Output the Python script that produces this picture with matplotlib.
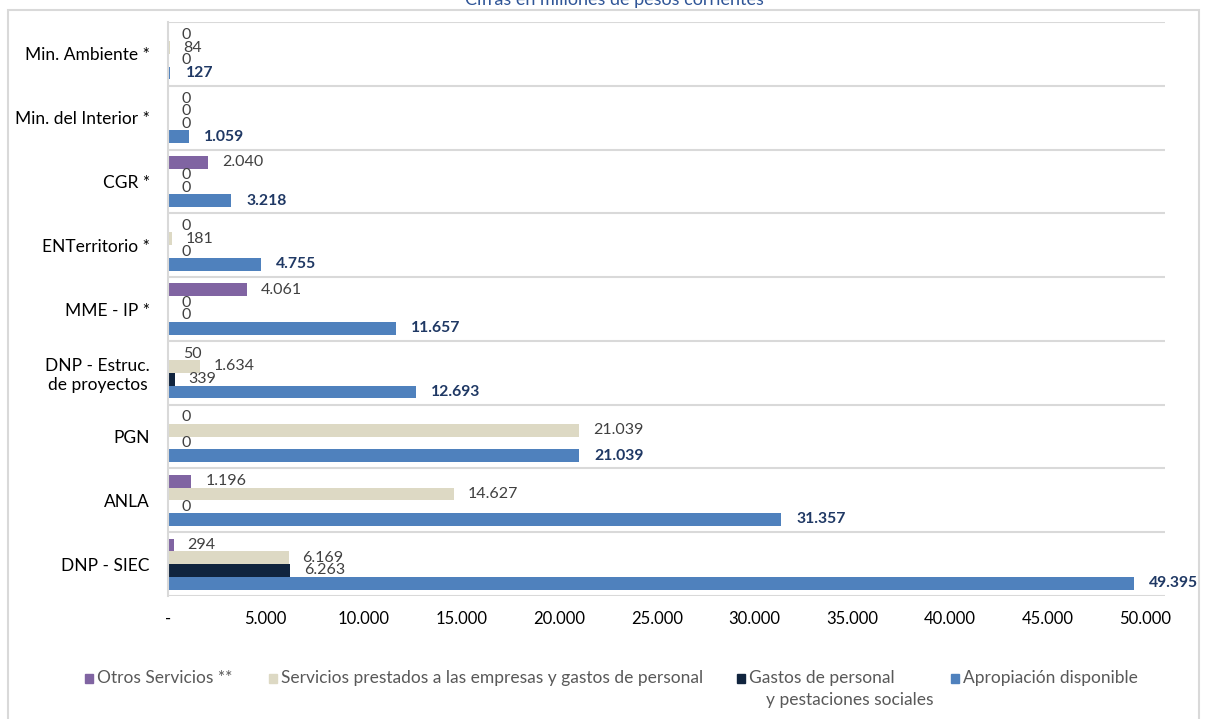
import matplotlib.pyplot as plt
from matplotlib.patches import Rectangle

plt.rcParams["font.family"] = ["Lato", "DejaVu Sans"]

categorias = ["Min. Ambiente *", "Min. del Interior *", "CGR *", "ENTerritorio *",
              "MME - IP *", "DNP - Estruc.\nde proyectos", "PGN", "ANLA", "DNP - SIEC"]
series = ["Otros Servicios **",
          "Servicios prestados a las empresas y gastos de personal",
          "Gastos de personal",
          "Apropiación disponible"]
otros = [0, 0, 2040, 0, 4061, 50, 0, 1196, 294]
servicios = [84, 0, 0, 181, 0, 1634, 21039, 14627, 6169]
gastos = [0, 0, 0, 0, 0, 339, 0, 0, 6263]
apropiacion = [127, 1059, 3218, 4755, 11657, 12693, 21039, 31357, 49395]
colores = ["#8064A2", "#DDD9C4", "#10243E", "#4F81BD"]


def fmt(v):
    return f"{v:,.0f}".replace(",", ".")


W, H = 1207, 719
fig = plt.figure(figsize=(W / 100, H / 100), dpi=100)
ax = fig.add_axes([168 / W, 1 - 596 / H, (1165 - 168) / W, (596 - 22) / H])

h = 0.2
offs = [-0.3, -0.1, 0.1, 0.3]
datos = [otros, servicios, gastos, apropiacion]
ypos = list(range(len(categorias)))
for k, (vals, col, off) in enumerate(zip(datos, colores, offs)):
    y = [i + off for i in ypos]
    ax.barh(y, vals, height=h, color=col)
    for yy, v in zip(y, vals):
        if k == 3:
            ax.annotate(fmt(v), (v, yy), xytext=(11, 0), textcoords="offset points",
                        va="center", ha="left", fontsize=11.3, fontweight="bold",
                        color="#1F3864")
        else:
            ax.annotate(fmt(v), (v, yy), xytext=(10, 0), textcoords="offset points",
                        va="center", ha="left", fontsize=11.5, color="#404040")

ax.set_ylim(len(categorias) - 0.5, -0.5)
ax.set_xlim(0, 51000)
for b in range(len(categorias) + 1):
    ax.axhline(b - 0.5, color="#D9D9D9", lw=1.5, zorder=0)

ax.set_yticks(ypos)
ax.set_yticklabels(categorias, fontsize=12.5, color="#000000", ha="right",
                   multialignment="center")
ax.tick_params(axis="y", length=0, pad=13)
xt = list(range(0, 50001, 5000))
ax.set_xticks(xt)
ax.set_xticklabels(["-" if t == 0 else fmt(t) for t in xt], fontsize=12, color="#000000")
ax.tick_params(axis="x", length=0, pad=11)
for s in ["top", "right", "bottom"]:
    ax.spines[s].set_visible(False)
ax.spines["left"].set_color("#D9D9D9")
ax.spines["left"].set_linewidth(1.5)

fig.text(614 / W, 1.0, "Cifras en millones de pesos corrientes", ha="center", va="center",
         fontsize=13, color="#2F5597")

fig.patches.append(Rectangle((8 / W, -0.01), 1191 / W, 1.0 - 10 / H + 0.01,
                             transform=fig.transFigure, fill=False,
                             edgecolor="#D9D9D9", lw=1.5))

# leyenda colocada a mano
ley_x = [85, 269, 737, 951]
for x0, col, lab in zip(ley_x, colores, series):
    fig.patches.append(Rectangle((x0 / W, 1 - 683 / H), 8 / W, 9 / H,
                                 transform=fig.transFigure, color=col))
    fig.text((x0 + 12) / W, 1 - 678 / H, lab, ha="left", va="center",
             fontsize=12.5, color="#595959")
fig.text(766 / W, 1 - 700 / H, "y pestaciones sociales", ha="left", va="center",
         fontsize=12.5, color="#595959")

fig.savefig("out.png", dpi=100)
